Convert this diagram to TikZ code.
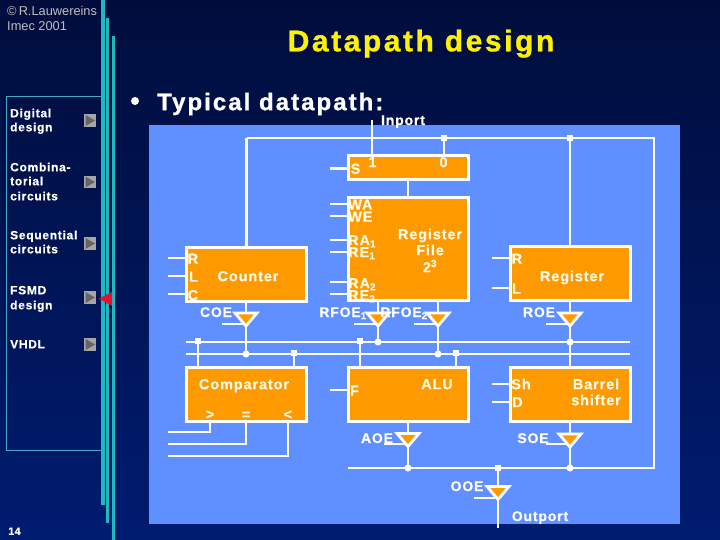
\documentclass[tikz,border=0pt]{standalone}
\usepackage{fontspec}
\setmainfont{Liberation Sans}
\usetikzlibrary{shapes.geometric}
\newfontfamily\spfont[LetterSpace=6,BoldFeatures={FakeBold=0.6}]{Liberation Sans}
\newfontfamily\spwide[LetterSpace=8.5,BoldFeatures={FakeBold=1}]{Liberation Sans}
\definecolor{panel}{HTML}{6090FF}
\definecolor{orng}{HTML}{FF9900}
\definecolor{cream}{HTML}{FFFBE6}
\definecolor{teal}{HTML}{20B8C0}
\definecolor{frame}{HTML}{48A8C8}
\definecolor{bgtop}{HTML}{000D3C}
\definecolor{bgbot}{HTML}{001C70}
\definecolor{rd}{HTML}{E8102C}
\tikzset{
  x=1pt,y=-1pt,
  wire/.style={draw=white,line width=2.8pt},
  box/.style={draw=white,fill=orng,line width=3pt,inner sep=0pt,outer sep=0pt},
  tri/.style={isosceles triangle,isosceles triangle stretches,shape border rotate=-90,draw=white,fill=orng,line width=2.8pt,
     minimum width=22pt,minimum height=13pt,inner sep=0pt,outer sep=0pt,anchor=apex},
  sq/.style={rectangle,fill=white,minimum size=6pt,inner sep=0pt,outer sep=0pt},
  dot/.style={circle,fill=white,minimum size=7pt,inner sep=0pt,outer sep=0pt},
  txt/.style={inner sep=0pt,text depth=0pt},
  lab/.style={txt,text height=10.4pt,text=cream,font=\fontsize{14.5}{14.5}\selectfont\bfseries\spfont},
  blab/.style={txt,text height=10pt,text=white,font=\fontsize{14}{14}\selectfont\bfseries\spfont},
  side/.style={txt,text height=8.6pt,text=white,font=\fontsize{12}{12}\selectfont\bfseries\spfont,anchor=west},
  nav/.style={rectangle,fill=gray!70,minimum size=12.5pt,inner sep=0pt},
  navt/.style={fill=black!60},
  stripe/.style={fill=teal},
}
\begin{document}
\begin{tikzpicture}
\useasboundingbox (0,0) rectangle (720,540);
% background
\shade[top color=bgtop,bottom color=bgbot] (0,0) rectangle (720,540);
\fill[panel] (149,125) rectangle (680,524);
% side bar
\draw[frame,line width=1pt] (6.5,96.5) rectangle (101,450.5);
\fill[stripe] (101,0) rectangle (104.5,505);
\fill[stripe] (106,18) rectangle (109,523);
\fill[stripe] (112,36) rectangle (115,540);
% header text
\node[txt,text height=9.2pt,text=gray!50,font=\fontsize{12.8}{12.8}\selectfont,anchor=west] (c1) at (7,10.5) {©\,R.Lauwereins};
\node[txt,text height=9.2pt,text=gray!50,font=\fontsize{12.8}{12.8}\selectfont,anchor=west] (c2) at (7,25.5) {Imec 2001};
\node[txt,text height=21.6pt,text=yellow,font=\fontsize{30}{30}\selectfont\bfseries\spwide] (title) at (421,40.5) {Datapath design};
\node[circle,fill=white,minimum size=8pt,inner sep=0pt] (bul) at (135,101) {};
\node[txt,text height=17.3pt,text=white,font=\fontsize{24}{24}\selectfont\bfseries\spwide,anchor=west] (typ) at (157,101.5) {Typical datapath:};
% side labels
\node[side] (d1) at (10,113) {Digital};
\node[side] (d2) at (10,127) {design};
\node[side] (e1) at (10,167) {Combina-};
\node[side] (e2) at (10,181) {torial};
\node[side] (e3) at (10,196) {circuits};
\node[side] (f1) at (10,235) {Sequential};
\node[side] (f2) at (10,249) {circuits};
\node[side] (g1) at (10,290) {FSMD};
\node[side] (g2) at (10,305) {design};
\node[side] (h1) at (10,344) {VHDL};
\foreach \n/\y in {a/120.5,b/182,c/243.5,d/297.5,e/344.5}{
  \node[nav] (nav\n) at (90,\y) {};
  \fill[navt] (85.5,\y-5.5) -- (95,\y) -- (85.5,\y+5.5) -- cycle;
}
\fill[rd] (99,298.5) -- (112,292) -- (112,306) -- cycle;
\node[txt,text height=7.5pt,text=white,font=\fontsize{10.5}{10.5}\selectfont\bfseries\spfont] (pg) at (14.5,531) {14};
% boxes
\node[box,minimum width=120pt,minimum height=24pt] (mux) at (408,168) {};
\node[box,minimum width=120pt,minimum height=102pt] (rf) at (408,249) {};
\node[box,minimum width=120pt,minimum height=54pt] (cnt) at (246.5,274) {};
\node[box,minimum width=120pt,minimum height=54pt] (reg) at (570,273) {};
\node[box,minimum width=120pt,minimum height=54pt] (cmp) at (246.5,394) {};
\node[box,minimum width=120pt,minimum height=54pt] (alu) at (408.5,394) {};
\node[box,minimum width=120pt,minimum height=54pt] (bar) at (570,394) {};
% junctions
\node[sq] (jtop1) at (444,138) {};
\node[sq] (jtop2) at (570,138) {};
\node[sq] (jc1) at (198,341) {};
\node[sq] (jc2) at (294,353) {};
\node[sq] (ja1) at (360,341) {};
\node[sq] (ja2) at (456,353) {};
\node[dot] (jtc) at (246,354) {};
\node[dot] (jt1) at (378,342) {};
\node[dot] (jt2) at (438,354) {};
\node[dot] (jtr) at (570,342) {};
\node[dot] (jta) at (408,468) {};
\node[dot] (jts) at (570,468) {};
\node[sq] (jo) at (498,468) {};
% free ends
\coordinate (tl) at (246.5,138);
\coordinate (tr1) at (654,138);
\coordinate (br) at (654,468);
\coordinate (bl) at (348,468);
\coordinate (b1l) at (186,342);
\coordinate (b1r) at (630,342);
\coordinate (b2l) at (186,354);
\coordinate (b2r) at (630,354);
\coordinate (inp) at (372,120);
\coordinate (outp) at (498,528);
% buses
\draw[wire] (tl) -- (tr1) -- (br) -- (bl);
\draw[wire] (b1l) -- (b1r);
\draw[wire] (b2l) -- (b2r);
% triangles
\node[tri] (tc) at (246,326) {};
\node[tri] (t1) at (378,326) {};
\node[tri] (t2) at (438,326) {};
\node[tri] (tr) at (570,326) {};
\node[tri] (ta) at (408,446.5) {};
\node[tri] (ts) at (570,447) {};
\node[tri] (to) at (498,499.5) {};
% connectors
\draw[wire] (tl) -- (cnt.north -| tl);
\draw[wire] (inp) -- (inp |- mux.north);
\draw[wire] (jtop1) -- (jtop1 |- mux.north);
\draw[wire] (jtop2) -- (jtop2 |- reg.north);
\draw[wire] (mux) -- (rf);
\draw[wire] (cnt.south -| tc) -- (tc.north);
\draw[wire] (tc.apex) -- (jtc);
\draw[wire] (rf.south -| t1) -- (t1.north);
\draw[wire] (t1.apex) -- (jt1);
\draw[wire] (rf.south -| t2) -- (t2.north);
\draw[wire] (t2.apex) -- (jt2);
\draw[wire] (reg.south -| tr) -- (tr.north);
\draw[wire] (tr.apex) -- (tr.apex |- bar.north);
\draw[wire] (jc1) -- (jc1 |- cmp.north);
\draw[wire] (jc2) -- (jc2 |- cmp.north);
\draw[wire] (ja1) -- (ja1 |- alu.north);
\draw[wire] (ja2) -- (ja2 |- alu.north);
\draw[wire] (alu.south -| ta) -- (ta.north);
\draw[wire] (ta.apex) -- (jta);
\draw[wire] (bar.south -| ts) -- (ts.north);
\draw[wire] (ts.apex) -- (jts);
\draw[wire] (jo) -- (to.north);
\draw[wire] (to.apex) -- (outp);
% comparator outputs
\coordinate (gt) at (210,421);
\coordinate (eq) at (246,421);
\coordinate (lt) at (288,421);
\coordinate (gte) at (168,432);
\coordinate (eqe) at (168,444);
\coordinate (lte) at (168,456);
\draw[wire] (gt) |- (gte);
\draw[wire] (eq) |- (eqe);
\draw[wire] (lt) |- (lte);
% control stubs
\foreach \nm/\b/\x/\y in {s/mux/330/168.5,wa/rf/330/204,we/rf/330/216,ra/rf/330/240,re/rf/330/252,rb/rf/330/282,rc/rf/330/294,
   cr/cnt/168/258,cl/cnt/168/276,cc/cnt/168/294,rr/reg/492/258,rl/reg/492/288,fn/alu/330/390,sh/bar/492/384,dd/bar/492/402}{
  \coordinate (st\nm) at (\x,\y);
  \draw[wire] (st\nm) -- (st\nm -| \b.west);
}
\foreach \nm/\t/\x/\y in {ec/tc/222/324,e1/t1/354/324,e2/t2/414/324,er/tr/546/324,ea/ta/384/444,es/ts/546/444,eo/to/474/498}{
  \coordinate (en\nm) at (\x,\y);
  \draw[wire] (en\nm) -- ([xshift=-3pt]en\nm -| \t.apex);
}
% box labels
\node[lab] (ls) at (355.5,168.5) {S};
\node[lab] (l1) at (372.5,162) {1};
\node[lab] (l0) at (443.5,162) {0};
\node[lab,anchor=west] (lwa) at (348,204.5) {WA};
\node[lab,anchor=west] (lwe) at (348,216.5) {WE};
\node[lab,anchor=west] (lra) at (348,240) {RA\textsubscript{1}};
\node[lab,anchor=west] (lre) at (348,252) {RE\textsubscript{1}};
\node[lab,anchor=west] (lrb) at (348,283) {RA\textsubscript{2}};
\node[lab,anchor=west] (lrc) at (348,295) {RE\textsubscript{2}};
\node[lab] (lrf1) at (430,234) {Register};
\node[lab] (lrf2) at (430,250) {File};
\node[lab] (lrf3) at (430,267) {2\textsuperscript{3}};
\node[lab] (lcr) at (193,258.5) {R};
\node[lab] (lcl) at (193.5,276.5) {L};
\node[lab] (lcc) at (193,295) {C};
\node[lab] (lcn) at (248,276) {Counter};
\node[lab] (lrr) at (517,258.5) {R};
\node[lab] (lrl) at (516.5,288.5) {L};
\node[lab] (lrg) at (572,276) {Register};
\node[lab] (lcm) at (244,384) {Comparator};
\node[lab] (lgt) at (210,414) {>};
\node[lab] (leq) at (246,414) {=};
\node[lab] (llt) at (288,414) {<};
\node[lab] (lf) at (354.5,390.5) {F};
\node[lab] (lal) at (437,384) {ALU};
\node[lab] (lsh) at (521,384) {Sh};
\node[lab] (ld) at (517.5,402) {D};
\node[lab] (lb1) at (596,384) {Barrel};
\node[lab] (lb2) at (596,400) {shifter};
% outside labels
\node[blab] (lin) at (403,120) {Inport};
\node[blab] (lcoe) at (216,312) {COE};
\node[blab] (lr1) at (343,312) {RFOE\textsubscript{1}};
\node[blab] (lr2) at (404,312) {RFOE\textsubscript{2}};
\node[blab] (lroe) at (539,312) {ROE};
\node[blab] (laoe) at (377,438) {AOE};
\node[blab] (lsoe) at (533,438) {SOE};
\node[blab] (looe) at (467,486) {OOE};
\node[blab] (lout) at (540,516) {Outport};
\end{tikzpicture}
\end{document}
